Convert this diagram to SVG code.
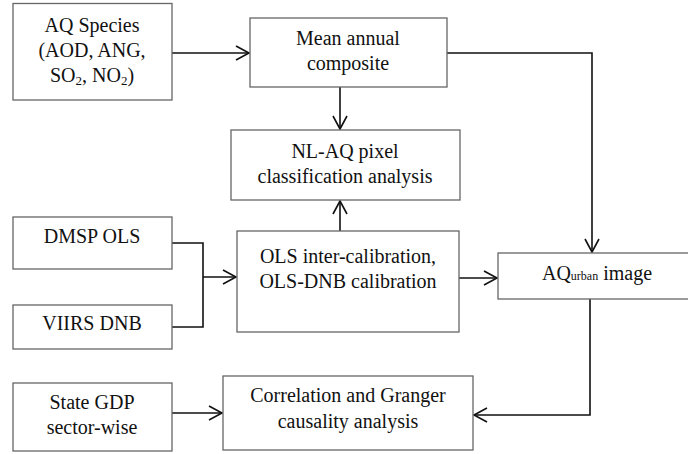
<svg xmlns="http://www.w3.org/2000/svg" width="688" height="454" viewBox="0 0 688 454">
<defs>
<style>
.box{fill:#fff;stroke:#666;stroke-width:1.3}
.t{font-family:'Liberation Serif','DejaVu Serif',serif;font-size:20px;fill:#111;text-anchor:middle}
.c{fill:none;stroke:#111;stroke-width:1.6}
.arr{marker-end:url(#ah)}
</style>
<marker id="ah" markerUnits="userSpaceOnUse" markerWidth="16" markerHeight="16" viewBox="-14 -8 16 16" refX="0" refY="0" orient="auto">
<path d="M-13,-7 L0,0 L-13,7" fill="none" stroke="#111" stroke-width="1.6"/>
</marker>
</defs>
<rect width="688" height="454" fill="#fff"/>
<g id="connectors">
<path class="c arr" d="M172,53 H249"/>
<path class="c arr" d="M340,87 V129"/>
<path class="c arr" d="M447,53 H592 V252"/>
<path class="c" d="M172,243 H203 V327 H172"/>
<path class="c arr" d="M203,277 H236"/>
<path class="c arr" d="M340,231 V201"/>
<path class="c arr" d="M459,278 H497"/>
<path class="c arr" d="M590,299 V415 H474"/>
<path class="c arr" d="M172,413 H222"/>
</g>
<g font-family="Liberation Serif, DejaVu Serif, serif">
<g id="aq-species">
<rect class="box" x="13" y="3.5" width="159" height="96.5"/>
<text class="t" x="92" y="32">AQ Species</text>
<text class="t" x="92" y="57">(AOD, ANG,</text>
<text class="t" x="92" y="82">SO<tspan font-size="13" dy="3">2</tspan><tspan dy="-3">, NO</tspan><tspan font-size="13" dy="3">2</tspan><tspan dy="-3">)</tspan></text>
</g>
<g id="mean-annual">
<rect class="box" x="250" y="18" width="197" height="69"/>
<text class="t" x="348" y="45">Mean annual</text>
<text class="t" x="348" y="70">composite</text>
</g>
<g id="nl-aq">
<rect class="box" x="231" y="130" width="229" height="70"/>
<text class="t" x="345" y="158">NL-AQ pixel</text>
<text class="t" x="345" y="183">classification analysis</text>
</g>
<g id="dmsp-ols">
<rect class="box" x="13" y="217" width="159" height="52"/>
<text class="t" x="92" y="243">DMSP OLS</text>
</g>
<g id="viirs-dnb">
<rect class="box" x="13" y="305" width="159" height="44"/>
<text class="t" x="92" y="330">VIIRS DNB</text>
</g>
<g id="ols-calibration">
<rect class="box" x="237" y="231" width="222" height="101"/>
<text class="t" x="348" y="263">OLS inter-calibration,</text>
<text class="t" x="348" y="288">OLS-DNB  calibration</text>
</g>
<g id="aq-urban">
<rect class="box" x="498" y="253" width="195" height="46"/>
<text class="t" x="597" y="280">AQ<tspan font-size="12">urban</tspan> image</text>
</g>
<g id="state-gdp">
<rect class="box" x="13" y="383" width="159" height="68"/>
<text class="t" x="92" y="409">State GDP</text>
<text class="t" x="92" y="434">sector-wise</text>
</g>
<g id="correlation">
<rect class="box" x="223" y="376" width="250" height="74"/>
<text class="t" x="348" y="402">Correlation and Granger</text>
<text class="t" x="348" y="428">causality analysis</text>
</g>
</g>
</svg>
